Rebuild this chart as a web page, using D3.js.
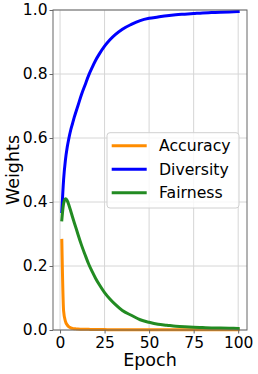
<!DOCTYPE html>
<html><head><meta charset="utf-8">
<script src="https://cdn.jsdelivr.net/npm/d3@7"></script>
<style>body{margin:0;background:#fff}svg{display:block}</style>
</head><body>
<svg id="c" width="258" height="374"></svg>
<script>
const epochs = [1,2,3,4,5,6,7,8,9,10,12,14,16,18,20,22,25,28,31,35,40,45,50,55,60,65,70,75,80,85,90,95,100];
const accuracy = [0.28,0.06,0.028,0.016,0.010,0.007,0.005,0.004,0.0035,0.003,0.0025,0.002,0.002,0.0015,0.0015,0.0013,0.0012,0.0011,0.001,0.001,0.001,0.001,0.0009,0.0009,0.0009,0.0008,0.0008,0.0008,0.0008,0.0008,0.0008,0.0008,0.0008];
const diversity = [0.37,0.47,0.53,0.57,0.60,0.625,0.645,0.665,0.683,0.70,0.735,0.765,0.795,0.82,0.843,0.862,0.887,0.907,0.923,0.94,0.955,0.967,0.974,0.978,0.982,0.985,0.987,0.989,0.991,0.992,0.993,0.994,0.995];
const fairness = [0.344,0.395,0.41,0.405,0.39,0.372,0.353,0.335,0.318,0.30,0.266,0.236,0.207,0.183,0.161,0.142,0.117,0.097,0.08,0.061,0.046,0.032,0.024,0.018,0.015,0.012,0.010,0.0085,0.0075,0.0065,0.006,0.0055,0.005];
const seriesNames = ["Accuracy","Diversity","Fairness"];
const seriesColors = ["#ff8c00","#0000ff","#228b22"];
const xTicks = [0,25,50,75,100];
const yTicks = [0.0,0.2,0.4,0.6,0.8,1.0];

const svg = d3.select("#c");
const L=53, R=247, T=10, B=330;
const x = d3.scaleLinear().domain([-3.95,104.95]).range([L,R]);
const y = d3.scaleLinear().domain([0,1]).range([B,T]);
const font = "DejaVu Sans, sans-serif";

// grid
svg.append("g").selectAll("line.gx").data(xTicks).join("line")
  .attr("x1",d=>x(d)).attr("x2",d=>x(d)).attr("y1",T).attr("y2",B)
  .attr("stroke","#d6d6d6").attr("stroke-width",1);
svg.append("g").selectAll("line.gy").data(yTicks).join("line")
  .attr("y1",d=>y(d)).attr("y2",d=>y(d)).attr("x1",L).attr("x2",R)
  .attr("stroke","#d6d6d6").attr("stroke-width",1);

// lines
const allSeries = [accuracy, diversity, fairness];
const line = d3.line().x((d,i)=>x(epochs[i])).y(d=>y(d)).curve(d3.curveMonotoneX);
allSeries.forEach((s,k)=>{
  svg.append("path").datum(s).attr("d",line).attr("fill","none")
    .attr("stroke",seriesColors[k]).attr("stroke-width",3).attr("stroke-linecap","square");
});

// spines
svg.append("rect").attr("x",L).attr("y",T).attr("width",R-L).attr("height",B-T)
  .attr("fill","none").attr("stroke","#666").attr("stroke-width",1);

// axes
const xAxis = d3.axisBottom(x).tickValues(xTicks).tickSize(3.5).tickPadding(3).tickFormat(d3.format("d"));
const gx = svg.append("g").attr("transform",`translate(0,${B})`).call(xAxis);
const yAxis = d3.axisLeft(y).tickValues(yTicks).tickSize(3.5).tickPadding(2).tickFormat(d3.format(".1f"));
const gy = svg.append("g").attr("transform",`translate(${L},0)`).call(yAxis);
[gx,gy].forEach(g=>{
  g.select(".domain").remove();
  g.selectAll(".tick line").attr("stroke","#666");
  g.selectAll(".tick text").attr("fill","#000").style("font-family",font).style("font-size","15.5px");
});

svg.append("text").attr("x",(L+R)/2).attr("y",366).attr("text-anchor","middle")
  .style("font-family",font).style("font-size","17.5px").text("Epoch");
svg.append("text").attr("transform",`translate(18.5,${(T+B)/2}) rotate(-90)`).attr("text-anchor","middle")
  .style("font-family",font).style("font-size","17.5px").text("Weights");

// legend
const lg = svg.append("g");
lg.append("rect").attr("x",107).attr("y",132.7).attr("width",132).attr("height",75.3).attr("rx",3)
  .attr("fill","#fff").attr("fill-opacity",0.8).attr("stroke","#d0d0d0");
seriesNames.forEach((n,i)=>{
  const yy = 145.7 + i*23.5;
  lg.append("line").attr("x1",111.7).attr("x2",146.7).attr("y1",yy).attr("y2",yy)
    .attr("stroke",seriesColors[i]).attr("stroke-width",3);
  lg.append("text").attr("x",159).attr("y",yy+5.5).style("font-family",font).style("font-size","15.7px").text(n);
});
</script>
</body></html>
